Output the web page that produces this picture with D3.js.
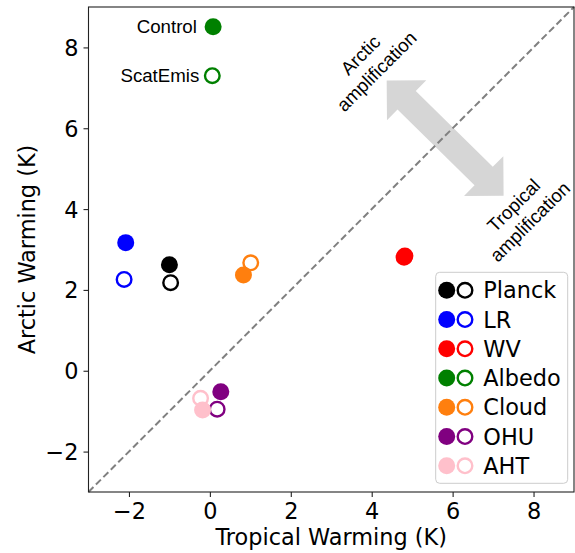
<!DOCTYPE html>
<html>
<head>
<meta charset="utf-8">
<script src="https://cdn.jsdelivr.net/npm/d3@7"></script>
<style>
  html, body { margin: 0; padding: 0; background: #fff; }
  svg { display: block; }
</style>
</head>
<body>
<svg id="chart" width="575" height="553"></svg>
<script>
// ---- data ----
const categories = ["Planck", "LR", "WV", "Albedo", "Cloud", "OHU", "AHT"];
const filledTropical = [-1.00, -2.08, 4.82, 0.08, 0.83, 0.27, -0.18];
const filledArctic   = [ 2.62,  3.17, 2.84, 8.51, 2.37, -0.52, -0.97];
const openTropical   = [-0.97, -2.12, 4.80, 0.06, 1.01, 0.18, -0.23];
const openArctic     = [ 2.18,  2.26, 2.81, 7.30, 2.67, -0.95, -0.68];
const pointLabels = ["Control", "ScatEmis"];
const xTickValues = [-2, 0, 2, 4, 6, 8];
const yTickValues = [-2, 0, 2, 4, 6, 8];

// ---- styles ----
const colors = ["#000000", "#0000ff", "#ff0000", "#008000", "#ff7f0e", "#800080", "#ffc0cb"];
const tickFont = "'DejaVu Sans', sans-serif";
const annFont = "'Liberation Sans', Arial, sans-serif";

const svg = d3.select("#chart");
const pLeft = 88.5, pRight = 574, pTop = 7, pBottom = 492;
const x = d3.scaleLinear().domain([-3, 9]).range([pLeft, pRight]);
const y = d3.scaleLinear().domain([-3, 9]).range([pBottom, pTop]);

// arrow (double-headed, light gray)
(function () {
  const p1 = [x(4.37), y(7.18)], p2 = [x(7.26), y(4.33)];
  const dx = p2[0] - p1[0], dy = p2[1] - p1[1];
  const L = Math.hypot(dx, dy);
  const u = [dx / L, dy / L], n = [-u[1], u[0]];
  const hl = 28, hh = 28, sh = 13;
  const P = (p, a, b) => [p[0] + u[0] * a + n[0] * b, p[1] + u[1] * a + n[1] * b];
  const pts = [p1, P(p1, hl, hh), P(p1, hl, sh), P(p2, -hl, sh), P(p2, -hl, hh), p2,
               P(p2, -hl, -hh), P(p2, -hl, -sh), P(p1, hl, -sh), P(p1, hl, -hh)];
  svg.append("polygon").attr("points", pts.map(p => p.join(",")).join(" "))
    .attr("fill", "#d6d6d6");
})();

// diagonal 1:1 line
svg.append("line")
  .attr("x1", x(-3)).attr("y1", y(-3)).attr("x2", x(9)).attr("y2", y(9))
  .attr("stroke", "#808080").attr("stroke-width", 2).attr("stroke-dasharray", "7,3.5");

// annotation texts
function rotText(cx, cy, lines) {
  const g = svg.append("g").attr("transform", `translate(${x(cx)},${y(cy)}) rotate(-45)`);
  const lh = 23;
  lines.forEach((t, i) => {
    g.append("text").attr("x", 0).attr("y", (i - (lines.length - 1) / 2) * lh)
      .attr("dy", "0.35em").attr("text-anchor", "middle")
      .attr("font-family", annFont).attr("font-size", 18.7).attr("fill", "#000").text(t);
  });
}
rotText(3.92, 7.61, ["Arctic", "amplification"]);
rotText(7.71, 3.89, ["Tropical", "amplification"]);

// points: open first, then filled
const R = 8.5, SW = 2.4;
svg.append("g").selectAll("circle").data(categories).join("circle")
  .attr("cx", (d, i) => x(openTropical[i])).attr("cy", (d, i) => y(openArctic[i]))
  .attr("r", R - SW / 2).attr("fill", "none")
  .attr("stroke", (d, i) => colors[i]).attr("stroke-width", SW);
svg.append("g").selectAll("circle").data(categories).join("circle")
  .attr("cx", (d, i) => x(filledTropical[i])).attr("cy", (d, i) => y(filledArctic[i]))
  .attr("r", R).attr("fill", (d, i) => colors[i]);

// Control / ScatEmis labels (Albedo index 3)
const ai = categories.indexOf("Albedo");
[[filledArctic[ai], pointLabels[0], -0.32], [openArctic[ai], pointLabels[1], -0.26]].forEach(([yv, t, xv]) => {
  svg.append("text").attr("x", x(xv)).attr("y", y(yv)).attr("dy", "0.35em")
    .attr("text-anchor", "end").attr("font-family", annFont).attr("font-size", 18.7)
    .attr("fill", "#000").text(t);
});

// frame
svg.append("rect").attr("x", pLeft).attr("y", pTop).attr("width", pRight - pLeft).attr("height", pBottom - pTop)
  .attr("fill", "none").attr("stroke", "#222").attr("stroke-width", 1.1);

// axes
const xAxis = d3.axisBottom(x).tickValues(xTickValues).tickSize(5).tickPadding(5)
  .tickFormat(d => d < 0 ? "\u2212" + Math.abs(d) : d);
const yAxis = d3.axisLeft(y).tickValues(yTickValues).tickSize(5).tickPadding(5)
  .tickFormat(d => d < 0 ? "\u2212" + Math.abs(d) : d);
const gx = svg.append("g").attr("transform", `translate(0,${pBottom})`).call(xAxis);
const gy = svg.append("g").attr("transform", `translate(${pLeft},0)`).call(yAxis);
[gx, gy].forEach(g => {
  g.select(".domain").remove();
  g.selectAll("line").attr("stroke", "#222").attr("stroke-width", 1.1);
  g.selectAll("text").attr("font-family", tickFont).attr("font-size", 22.4).attr("fill", "#000");
});
gx.selectAll("text").attr("dy", "0.78em");
gy.selectAll("text").attr("dy", "0.36em");

// axis labels
svg.append("text").attr("x", (pLeft + pRight) / 2).attr("y", 545).attr("text-anchor", "middle")
  .attr("font-family", tickFont).attr("font-size", 22.4).attr("fill", "#000").text("Tropical Warming (K)");
svg.append("text").attr("transform", `translate(35,${(pTop + pBottom) / 2}) rotate(-90)`)
  .attr("text-anchor", "middle").attr("font-family", tickFont).attr("font-size", 22.4)
  .attr("fill", "#000").text("Arctic Warming (K)");

// legend
const lg = svg.append("g");
lg.append("rect").attr("x", 435.7).attr("y", 272.3).attr("width", 132).attr("height", 211)
  .attr("rx", 4).attr("fill", "rgba(255,255,255,0.8)").attr("stroke", "#cccccc").attr("stroke-width", 1);
const rowY = i => 290.3 + i * 29.25;
categories.forEach((c, i) => {
  lg.append("circle").attr("cx", 446.7).attr("cy", rowY(i)).attr("r", R).attr("fill", colors[i]);
  lg.append("circle").attr("cx", 465).attr("cy", rowY(i)).attr("r", R - SW / 2)
    .attr("fill", "none").attr("stroke", colors[i]).attr("stroke-width", SW);
  lg.append("text").attr("x", 483.3).attr("y", rowY(i)).attr("dy", "0.36em")
    .attr("font-family", tickFont).attr("font-size", 22.4).attr("fill", "#000").text(c);
});
</script>
</body>
</html>
